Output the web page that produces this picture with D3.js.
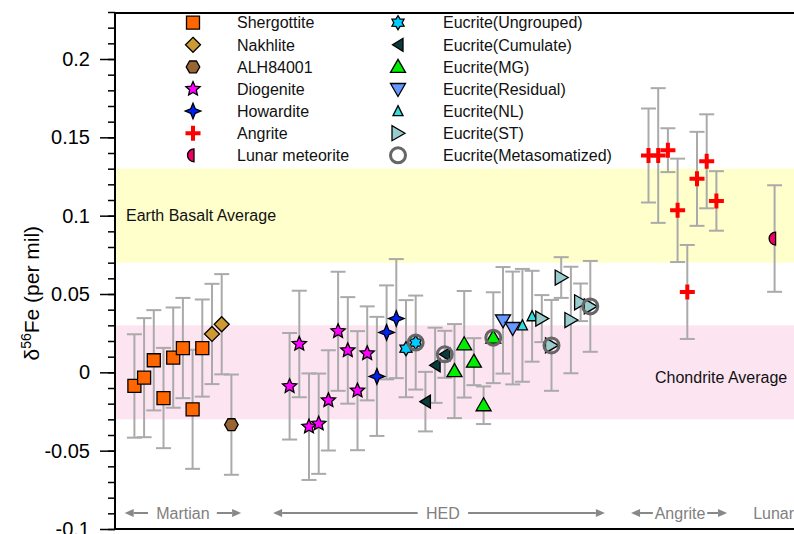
<!DOCTYPE html>
<html>
<head>
<meta charset="utf-8">
<script src="https://cdn.jsdelivr.net/npm/d3@7"></script>
<style>
  html, body { margin: 0; padding: 0; background: #fff; }
  svg { display: block; font-family: "Liberation Sans", Arial, Helvetica, sans-serif; }
</style>
</head>
<body>
<svg id="chart" width="794" height="534"></svg>
<script>
// ---- data: [sample index, delta56Fe (per mil), error] ----
const shergottite = [[0,-0.0087,0.033],[1,-0.0034,0.038],[2,0.0077,0.032],[3,-0.0164,0.032],[4,0.0094,0.032],[5,0.0155,0.032],[6,-0.0236,0.038],[7,0.0155,0.031]];
const nakhlite = [[8,0.0245,0.032],[9,0.0307,0.032]];
const alh84001 = [[10,-0.0334,0.032]];
const diogenite = [[16,-0.0089,0.034],[17,0.0181,0.034],[18,-0.0347,0.034],[19,-0.0328,0.032],[20,-0.0179,0.032],[21,0.0262,0.038],[22,0.0140,0.034],[23,-0.0117,0.038],[24,0.0121,0.030]];
const howardite = [[25,-0.0026,0.038],[26,0.0255,0.030],[27,0.0343,0.038]];
const eucUngrouped = [[28,0.0151,0.031],[29,0.0190,0.030]];
const eucCumulate = [[30,-0.0187,0.019],[31,0.0045,0.024],[32,0.0115,0.015]];
const eucMG = [[33,0.0008,0.030],[34,0.0179,0.034],[35,0.0068,0.015],[36,-0.0210,0.012],[37,0.0221,0.029]];
const eucResidual = [[38,0.0332,0.034],[39,0.0283,0.036]];
const eucNL = [[40,0.0300,0.036],[41,0.0358,0.029]];
const eucST = [[42,0.0343,0.015],[43,0.0172,0.029],[44,0.0605,0.013],[45,0.0334,0.034],[46,0.0447,0.012],[47,0.0421,0.029]];
const eucMetasomatized = [[29,0.0190],[32,0.0115],[37,0.0221],[43,0.0172],[47,0.0421]];
const angrite = [[53,0.1384,0.030],[54,0.1384,0.043],[55,0.1418,0.014],[56,0.1034,0.033],[57,0.0513,0.030],[58,0.1235,0.030],[59,0.1347,0.030],[60,0.1094,0.019]];
const lunar = [[66,0.0854,0.034]];

const earthBasalt = [0.07, 0.13];
const chondrite = [-0.03, 0.03];
const yTicks = [-0.1, -0.05, 0, 0.05, 0.1, 0.15, 0.2];
const yTickLabels = ["-0.1", "-0.05", "0", "0.05", "0.1", "0.15", "0.2"];
const minorTicks = d3.range(-10, 24).map(i => i / 100);

// group annotations along the bottom (in sample-index units)
const groups = [
  {label: "Martian", left: [-1, 1.4], right: [8.5, 11], center: 5.0},
  {label: "HED", left: [14.3, 29.2], right: [34.4, 48.5], center: 31.8},
  {label: "Angrite", left: [51.2, 53.45], right: [59.05, 61.1], center: 56.25},
  {label: "Lunar", left: null, right: null, center: 65.9}
];

// ---- styles ----
const series = [
  {name: "Shergottite", data: shergottite, shape: "square", fill: "#ff6600"},
  {name: "Nakhlite", data: nakhlite, shape: "diamond", fill: "#cc9933"},
  {name: "ALH84001", data: alh84001, shape: "hexagon", fill: "#996633"},
  {name: "Diogenite", data: diogenite, shape: "star5", fill: "#ff00ff"},
  {name: "Howardite", data: howardite, shape: "star4", fill: "#0022ee"},
  {name: "Angrite", data: angrite, shape: "cross", fill: "#ff0000"},
  {name: "Lunar meteorite", data: lunar, shape: "half", fill: "#ee0066"},
  {name: "Eucrite(Ungrouped)", data: eucUngrouped, shape: "star6", fill: "#00ccff"},
  {name: "Eucrite(Cumulate)", data: eucCumulate, shape: "triLeft", fill: "#0b3b3b"},
  {name: "Eucrite(MG)", data: eucMG, shape: "triUp", fill: "#00ee00"},
  {name: "Eucrite(Residual)", data: eucResidual, shape: "triDown", fill: "#6699ff"},
  {name: "Eucrite(NL)", data: eucNL, shape: "triSmall", fill: "#33dddd"},
  {name: "Eucrite(ST)", data: eucST, shape: "triRight", fill: "#99cccc"},
  {name: "Eucrite(Metasomatized)", data: eucMetasomatized, shape: "ring", fill: "none"}
];

function starPath(n, ro, ri, rot) {
  const pts = [];
  for (let k = 0; k < 2 * n; k++) {
    const a = rot + k * Math.PI / n;
    const r = k % 2 === 0 ? ro : ri;
    pts.push([r * Math.cos(a), r * Math.sin(a)]);
  }
  return "M" + pts.map(p => p[0].toFixed(2) + "," + p[1].toFixed(2)).join("L") + "Z";
}
function poly(pts) { return "M" + pts.map(p => p.join(",")).join("L") + "Z"; }
const shapePaths = {
  square: () => poly([[-6.5,-6.5],[6.5,-6.5],[6.5,6.5],[-6.5,6.5]]),
  diamond: () => poly([[0,-7.5],[7.5,0],[0,7.5],[-7.5,0]]),
  hexagon: () => starPath(3, 6.8, 6.8, 0),
  star5: () => starPath(5, 7.5, 3.5, -Math.PI / 2),
  star4: () => starPath(4, 7.8, 3.2, -Math.PI / 2),
  star6: () => starPath(6, 7, 4.2, -Math.PI / 2),
  cross: () => "M-7.5,-2H-2V-7.5H2V-2H7.5V2H2V7.5H-2V2H-7.5Z",
  half: () => "M1,-6.5A6.5,6.5 0 0 0 1,6.5Z",
  triLeft: () => poly([[-5.5,0],[5,-6.5],[5,6.5]]),
  triUp: () => poly([[0,-7.5],[7.5,5.5],[-7.5,5.5]]),
  triDown: () => poly([[0,7.5],[7.5,-5.5],[-7.5,-5.5]]),
  triSmall: () => poly([[0,-5.5],[5,4.5],[-5,4.5]]),
  triRight: () => poly([[7,0],[-6,-7.5],[-6,7.5]]),
  ring: () => "M7.5,0A7.5,7.5 0 1 1 -7.5,0A7.5,7.5 0 1 1 7.5,0Z"
};
function drawMarker(g, s, px, py) {
  const p = g.append("path").attr("d", shapePaths[s.shape]()).attr("transform", `translate(${px},${py})`);
  if (s.shape === "ring") {
    p.attr("fill", "none").attr("stroke", "#666").attr("stroke-width", 3);
  } else if (s.shape === "cross") {
    p.attr("fill", s.fill).attr("stroke", "none");
  } else {
    p.attr("fill", s.fill).attr("stroke", "#000").attr("stroke-width", 1.3).attr("stroke-linejoin", "miter");
  }
}

// ---- chart ----
const svg = d3.select("#chart");
const W = 794;
const plotLeft = 115, plotTop = 13, plotBottom = 529;
const x = d3.scaleLinear().domain([-2, 68]).range([plotLeft, W]);
const y = d3.scaleLinear().domain([-0.1, 0.23]).range([plotBottom, 12]);

// bands
svg.append("rect").attr("x", plotLeft).attr("width", W - plotLeft)
  .attr("y", y(earthBasalt[1])).attr("height", y(earthBasalt[0]) - y(earthBasalt[1])).attr("fill", "#ffffcc");
svg.append("rect").attr("x", plotLeft).attr("width", W - plotLeft)
  .attr("y", y(chondrite[1])).attr("height", y(chondrite[0]) - y(chondrite[1])).attr("fill", "#fde4f1");
svg.append("text").attr("x", 126).attr("y", y(0.1)).attr("dy", "0.35em")
  .attr("font-size", 16).attr("fill", "#111").text("Earth Basalt Average");
svg.append("text").attr("x", 655).attr("y", y(-0.003)).attr("dy", "0.35em")
  .attr("font-size", 16).attr("fill", "#111").text("Chondrite Average");

// error bars
const errG = svg.append("g").attr("stroke", "#aaa").attr("stroke-width", 2).attr("fill", "none");
series.forEach(s => {
  if (s.shape === "ring") return;
  s.data.forEach(d => {
    const cx = x(d[0]), y1 = y(d[1] + d[2]), y2 = y(d[1] - d[2]);
    errG.append("line").attr("x1", cx).attr("x2", cx).attr("y1", y1).attr("y2", y2);
    errG.append("line").attr("x1", cx - 7.5).attr("x2", cx + 7.5).attr("y1", y1).attr("y2", y1);
    errG.append("line").attr("x1", cx - 7.5).attr("x2", cx + 7.5).attr("y1", y2).attr("y2", y2);
  });
});

// markers
const mG = svg.append("g");
series.filter(s => s.shape !== "ring").forEach(s => s.data.forEach(d => drawMarker(mG, s, x(d[0]), y(d[1]))));
series.filter(s => s.shape === "ring").forEach(s => s.data.forEach(d => drawMarker(mG, s, x(d[0]), y(d[1]))));

// legend
const legG = svg.append("g");
series.forEach((s, i) => {
  const col = i < 7 ? 0 : 1, row = i % 7;
  const mx = col === 0 ? 193 : 398, tx = col === 0 ? 237 : 443;
  const ly = 22.7 + row * 22.1;
  drawMarker(legG, s, mx, ly);
  legG.append("text").attr("x", tx).attr("y", ly).attr("dy", "0.36em").attr("font-size", 16).attr("fill", "#111").text(s.name);
});

// group annotations
const annY = 513;
const annG = svg.append("g");
function arrow(x1, x2, dir) {
  const tip = dir < 0 ? x1 : x2, base = dir < 0 ? x1 + 9 : x2 - 9;
  annG.append("line").attr("x1", dir < 0 ? base : x1).attr("x2", dir < 0 ? x2 : base)
    .attr("y1", annY).attr("y2", annY).attr("stroke", "#888").attr("stroke-width", 2);
  annG.append("path").attr("d", `M${tip},${annY}L${base},${annY - 4}L${base},${annY + 4}Z`).attr("fill", "#888");
}
groups.forEach(gr => {
  if (gr.left) arrow(x(gr.left[0]), x(gr.left[1]), -1);
  if (gr.right) arrow(x(gr.right[0]), x(gr.right[1]), 1);
  annG.append("text").attr("x", x(gr.center)).attr("y", annY).attr("dy", "0.36em")
    .attr("text-anchor", "middle").attr("font-size", 16).attr("fill", "#808080").text(gr.label);
});

// axes
const minorAxis = d3.axisLeft(y).tickValues(minorTicks).tickSize(7).tickFormat("");
const majorAxis = d3.axisLeft(y).tickValues(yTicks).tickSize(15).tickPadding(10)
  .tickFormat((d, i) => yTickLabels[i]);
const gMin = svg.append("g").attr("transform", `translate(${plotLeft},0)`).call(minorAxis);
const gMaj = svg.append("g").attr("transform", `translate(${plotLeft},0)`).call(majorAxis);
[gMin, gMaj].forEach(g => {
  g.select(".domain").remove();
  g.selectAll(".tick line").attr("stroke", "#000").attr("stroke-width", 1.5);
});
gMaj.selectAll(".tick text").attr("font-size", 20).attr("fill", "#000")
  .attr("font-family", "\"Liberation Sans\", Arial, Helvetica, sans-serif");

// frame
svg.append("line").attr("x1", plotLeft).attr("x2", plotLeft).attr("y1", plotTop - 1).attr("y2", plotBottom + 1).attr("stroke", "#000").attr("stroke-width", 2);
svg.append("line").attr("x1", plotLeft).attr("x2", W).attr("y1", plotTop).attr("y2", plotTop).attr("stroke", "#000").attr("stroke-width", 1.8);
svg.append("line").attr("x1", plotLeft).attr("x2", W).attr("y1", plotBottom).attr("y2", plotBottom).attr("stroke", "#000").attr("stroke-width", 1.8);

// y title
const t = svg.append("text").attr("transform", `translate(39,${y(0.0505)}) rotate(-90)`)
  .attr("text-anchor", "middle").attr("font-size", 21).attr("fill", "#000");
t.append("tspan").text("δ");
t.append("tspan").attr("font-size", 14).attr("dy", -8).text("56");
t.append("tspan").attr("dy", 8).text("Fe (per mil)");
</script>
</body>
</html>
